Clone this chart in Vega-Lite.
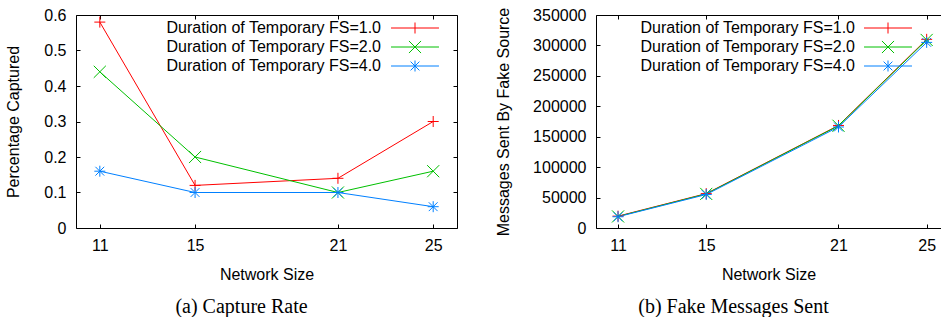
{
  "$schema": "https://vega.github.io/schema/vega-lite/v6.json",
  "padding": {"left": 5, "top": 7, "right": 0, "bottom": 0},
  "background": "white",
  "datasets": {
    "capture": [
      {"size": 11, "series": "Duration of Temporary FS=1.0", "value": 0.58},
      {"size": 15, "series": "Duration of Temporary FS=1.0", "value": 0.12},
      {"size": 21, "series": "Duration of Temporary FS=1.0", "value": 0.14},
      {"size": 25, "series": "Duration of Temporary FS=1.0", "value": 0.30},
      {"size": 11, "series": "Duration of Temporary FS=2.0", "value": 0.44},
      {"size": 15, "series": "Duration of Temporary FS=2.0", "value": 0.20},
      {"size": 21, "series": "Duration of Temporary FS=2.0", "value": 0.10},
      {"size": 25, "series": "Duration of Temporary FS=2.0", "value": 0.16},
      {"size": 11, "series": "Duration of Temporary FS=4.0", "value": 0.16},
      {"size": 15, "series": "Duration of Temporary FS=4.0", "value": 0.10},
      {"size": 21, "series": "Duration of Temporary FS=4.0", "value": 0.10},
      {"size": 25, "series": "Duration of Temporary FS=4.0", "value": 0.06}
    ],
    "msgs": [
      {"size": 11, "series": "Duration of Temporary FS=1.0", "value": 19500},
      {"size": 15, "series": "Duration of Temporary FS=1.0", "value": 56500},
      {"size": 21, "series": "Duration of Temporary FS=1.0", "value": 168500},
      {"size": 25, "series": "Duration of Temporary FS=1.0", "value": 310000},
      {"size": 11, "series": "Duration of Temporary FS=2.0", "value": 19000},
      {"size": 15, "series": "Duration of Temporary FS=2.0", "value": 56000},
      {"size": 21, "series": "Duration of Temporary FS=2.0", "value": 168000},
      {"size": 25, "series": "Duration of Temporary FS=2.0", "value": 309000},
      {"size": 11, "series": "Duration of Temporary FS=4.0", "value": 18500},
      {"size": 15, "series": "Duration of Temporary FS=4.0", "value": 55000},
      {"size": 21, "series": "Duration of Temporary FS=4.0", "value": 166000},
      {"size": 25, "series": "Duration of Temporary FS=4.0", "value": 305000}
    ]
  },
  "config": {
    "view": {"stroke": null},
    "font": "Liberation Sans",
    "axis": {
      "domainColor": "black", "domainWidth": 1,
      "tickColor": "black", "tickWidth": 1, "tickSize": -4,
      "labelColor": "black", "titleColor": "black",
      "labelFont": "Liberation Sans", "titleFont": "Liberation Sans",
      "labelFontSize": 16, "titleFontSize": 16, "titleFontWeight": "normal",
      "grid": false, "labelFlush": false
    },
    "legend": {
      "title": null, "orient": "none", "padding": 0,
      "labelFontSize": 16, "labelFont": "Liberation Sans", "labelColor": "black", "labelLimit": 0,
      "symbolSize": 121, "symbolStrokeWidth": 1, "rowPadding": 2
    }
  },
  "resolve": {"scale": {"color": "independent", "shape": "independent"}},
  "spacing": 37,
  "hconcat": [
    {
      "width": 381,
      "height": 213,
      "data": {"name": "capture"},
      "title": {"text": "(a) Capture Rate", "orient": "bottom", "frame": "group", "anchor": "middle", "dx": -25, "offset": 15, "font": "Liberation Serif", "fontSize": 20, "fontWeight": "normal", "color": "black"},
      "layer": [
        {
          "mark": {"type": "line", "strokeWidth": 1},
          "encoding": {
            "x": {"field": "size", "type": "quantitative", "scale": {"domain": [10, 26], "nice": false, "zero": false},
                  "axis": {"orient": "bottom", "title": "Network Size", "values": [11, 15, 21, 25], "format": "d", "labelPadding": 13, "titlePadding": 13}},
            "y": {"field": "value", "type": "quantitative", "scale": {"domain": [0, 0.6], "nice": false},
                  "axis": {"orient": "left", "title": "Percentage Captured", "values": [0, 0.1, 0.2, 0.3, 0.4, 0.5, 0.6], "format": "~g", "labelPadding": 14, "titlePadding": 22}},
            "color": {"field": "series", "type": "nominal", "scale": {"range": ["#ff0000", "#00c000", "#0080ff"]},
                      "legend": {"legendX": 0, "legendY": 5,
                        "encode": {
                          "symbols": {"update": {
                            "x": {"value": 339},
                            "shape": {"signal": "datum.value === 'Duration of Temporary FS=1.0' ? 'M-4.36,0L4.36,0M0,-1L0,1' : datum.value === 'Duration of Temporary FS=2.0' ? 'M-4.36,0L4.36,0M-1.1,-1.1L1.1,1.1M-1.1,1.1L1.1,-1.1' : 'M-4.36,0L4.36,0M0,-1L0,1M-0.8,-0.8L0.8,0.8M-0.8,0.8L0.8,-0.8'"}
                          }},
                          "labels": {"update": {"x": {"value": 305}, "align": {"value": "right"}}}
                        }}}
          }
        },
        {
          "mark": {"type": "point", "filled": false, "size": 121, "strokeWidth": 1, "opacity": 1},
          "encoding": {
            "x": {"field": "size", "type": "quantitative",
                  "axis": {"orient": "top", "title": null, "labels": false, "values": [11, 15, 21, 25]}},
            "y": {"field": "value", "type": "quantitative",
                  "axis": {"orient": "right", "title": null, "labels": false, "values": [0, 0.1, 0.2, 0.3, 0.4, 0.5, 0.6]}},
            "shape": {"field": "series", "type": "nominal", "legend": null,
                      "scale": {"range": ["M-1,0L1,0M0,-1L0,1", "M-1.1,-1.1L1.1,1.1M-1.1,1.1L1.1,-1.1", "M-1,0L1,0M0,-1L0,1M-0.8,-0.8L0.8,0.8M-0.8,0.8L0.8,-0.8"]}},
            "color": {"field": "series", "type": "nominal", "scale": {"range": ["#ff0000", "#00c000", "#0080ff"]},
                      "legend": {"legendX": 0, "legendY": 5,
                        "encode": {
                          "symbols": {"update": {
                            "x": {"value": 339},
                            "shape": {"signal": "datum.value === 'Duration of Temporary FS=1.0' ? 'M-4.36,0L4.36,0M0,-1L0,1' : datum.value === 'Duration of Temporary FS=2.0' ? 'M-4.36,0L4.36,0M-1.1,-1.1L1.1,1.1M-1.1,1.1L1.1,-1.1' : 'M-4.36,0L4.36,0M0,-1L0,1M-0.8,-0.8L0.8,0.8M-0.8,0.8L0.8,-0.8'"}
                          }},
                          "labels": {"update": {"x": {"value": 305}, "align": {"value": "right"}}}
                        }}}
          }
        }
      ]
    },
    {
      "width": 345,
      "height": 213,
      "data": {"name": "msgs"},
      "title": {"text": "(b) Fake Messages Sent", "orient": "bottom", "frame": "group", "anchor": "middle", "dx": -35, "offset": 15, "font": "Liberation Serif", "fontSize": 20, "fontWeight": "normal", "color": "black"},
      "layer": [
        {
          "mark": {"type": "line", "strokeWidth": 1},
          "encoding": {
            "x": {"field": "size", "type": "quantitative", "scale": {"domain": [10, 25.65], "nice": false, "zero": false},
                  "axis": {"orient": "bottom", "title": "Network Size", "values": [11, 15, 21, 25], "format": "d", "labelPadding": 13, "titlePadding": 13}},
            "y": {"field": "value", "type": "quantitative", "scale": {"domain": [0, 350000], "nice": false},
                  "axis": {"orient": "left", "title": "Messages Sent By Fake Source", "values": [0, 50000, 100000, 150000, 200000, 250000, 300000, 350000], "format": "d", "labelPadding": 14, "titlePadding": 21}},
            "color": {"field": "series", "type": "nominal", "scale": {"range": ["#ff0000", "#00c000", "#0080ff"]},
                      "legend": {"legendX": 0, "legendY": 5,
                        "encode": {
                          "symbols": {"update": {
                            "x": {"value": 292},
                            "shape": {"signal": "datum.value === 'Duration of Temporary FS=1.0' ? 'M-4.36,0L4.36,0M0,-1L0,1' : datum.value === 'Duration of Temporary FS=2.0' ? 'M-4.36,0L4.36,0M-1.1,-1.1L1.1,1.1M-1.1,1.1L1.1,-1.1' : 'M-4.36,0L4.36,0M0,-1L0,1M-0.8,-0.8L0.8,0.8M-0.8,0.8L0.8,-0.8'"}
                          }},
                          "labels": {"update": {"x": {"value": 259}, "align": {"value": "right"}}}
                        }}}
          }
        },
        {
          "mark": {"type": "point", "filled": false, "size": 121, "strokeWidth": 1, "opacity": 1},
          "encoding": {
            "x": {"field": "size", "type": "quantitative",
                  "axis": {"orient": "top", "title": null, "labels": false, "values": [11, 15, 21, 25]}},
            "y": {"field": "value", "type": "quantitative",
                  "axis": {"orient": "right", "title": null, "labels": false, "ticks": false, "domain": false}},
            "shape": {"field": "series", "type": "nominal", "legend": null,
                      "scale": {"range": ["M-1,0L1,0M0,-1L0,1", "M-1.1,-1.1L1.1,1.1M-1.1,1.1L1.1,-1.1", "M-1,0L1,0M0,-1L0,1M-0.8,-0.8L0.8,0.8M-0.8,0.8L0.8,-0.8"]}},
            "color": {"field": "series", "type": "nominal", "scale": {"range": ["#ff0000", "#00c000", "#0080ff"]},
                      "legend": {"legendX": 0, "legendY": 5,
                        "encode": {
                          "symbols": {"update": {
                            "x": {"value": 292},
                            "shape": {"signal": "datum.value === 'Duration of Temporary FS=1.0' ? 'M-4.36,0L4.36,0M0,-1L0,1' : datum.value === 'Duration of Temporary FS=2.0' ? 'M-4.36,0L4.36,0M-1.1,-1.1L1.1,1.1M-1.1,1.1L1.1,-1.1' : 'M-4.36,0L4.36,0M0,-1L0,1M-0.8,-0.8L0.8,0.8M-0.8,0.8L0.8,-0.8'"}
                          }},
                          "labels": {"update": {"x": {"value": 259}, "align": {"value": "right"}}}
                        }}}
          }
        }
      ]
    }
  ]
}
